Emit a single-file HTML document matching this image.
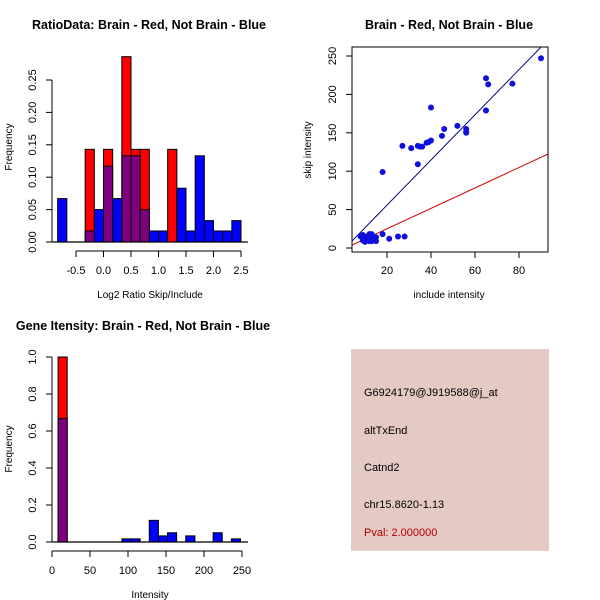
<!DOCTYPE html>
<html><head><meta charset="utf-8"><style>body{margin:0;background:#fff}svg{display:block;font-family:"Liberation Sans",sans-serif}</style></head>
<body>
<svg id="s" width="600" height="600" xmlns="http://www.w3.org/2000/svg">
<rect width="600" height="600" fill="#fff"/>
<text x="149" y="29" font-size="12.5" font-weight="bold" text-anchor="middle">RatioData: Brain - Red, Not Brain - Blue</text>
<text x="449" y="29" font-size="12.5" font-weight="bold" text-anchor="middle">Brain - Red, Not Brain - Blue</text>
<text x="143" y="330" font-size="12.5" font-weight="bold" text-anchor="middle">Gene Itensity: Brain - Red, Not Brain - Blue</text>
<text x="150" y="298" font-size="10" text-anchor="middle">Log2 Ratio Skip/Include</text>
<text transform="translate(12,147) rotate(-90)" font-size="10" text-anchor="middle">Frequency</text>
<text x="449" y="298" font-size="10" text-anchor="middle">include intensity</text>
<text transform="translate(311,150) rotate(-90)" font-size="10" text-anchor="middle">skip intensity</text>
<text x="150" y="598" font-size="10" text-anchor="middle">Intensity</text>
<text transform="translate(12,449) rotate(-90)" font-size="10" text-anchor="middle">Frequency</text>
<g>
<rect x="351" y="349" width="198" height="202" fill="#E5C9C3"/>
<text x="364" y="396" font-size="11">G6924179@J919588@j_at</text>
<text x="364" y="434" font-size="11">altTxEnd</text>
<text x="364" y="471" font-size="11">Catnd2</text>
<text x="364" y="508" font-size="11">chr15.8620-1.13</text>
<text x="364" y="536" font-size="11" fill="#B00000">Pval: 2.000000</text>
</g>
</svg>
<script>
const ratioBlue=[.067,0,0,.017,.05,.117,.067,.133,.133,.05,.017,.017,0,.083,.017,.133,.033,.017,.017,.033];
const ratioRed=[0,0,0,.143,0,.143,0,.286,.143,.143,0,0,.143,0,0,0,0,0,0,0];
const ratioTicksX=[-0.5,0,0.5,1,1.5,2,2.5];
const ratioTicksY=[0,0.05,0.1,0.15,0.2,0.25];
const intBlue=[.667,0,0,0,0,0,0,.017,.017,0,.117,.033,.05,0,.033,0,0,.05,0,.017];
const intRed=[1,0,0,0,0,0,0,0,0,0,0,0,0,0,0,0,0,0,0,0];
const intTicksX=[0,50,100,150,200,250];
const intTicksY=[0,0.2,0.4,0.6,0.8,1.0];
const includeX=[27,31,34,35,36,34,38,39,40,40,45,46,52,56,56,56,65,65,66,77,90,18,18,21,25,28,8,9,9,10,10,11,11,12,12,13,13,14,14,15,15,13,12,10];
const skipY=[133,130,133,132,132,109,137,138,140,183,146,155,159,155,151,150,179,221,213,214,247,99,18,12,15,15,15,10,17,12,8,15,10,18,12,9,15,12,10,14,9,18,9,14];
const scatTicksX=[20,40,60,80];
const scatTicksY=[0,50,100,150,200,250];
const blueFit=[-3,2.94];
const redFit=[-1.6,1.33];
const svg=document.getElementById('s');
const NS='http://www.w3.org/2000/svg';
function mk(tag,attrs,parent){const e=document.createElementNS(NS,tag);for(const k in attrs)e.setAttribute(k,attrs[k]);(parent||svg).appendChild(e);return e;}
function hist(blue,red,x0,bw,sx,sy,name){
  const g=mk('g',{});
  
  
  for(let i=0;i<blue.length;i++){
    const b=blue[i],r=red[i];const xa=sx(x0+i*bw),xb=sx(x0+(i+1)*bw);
    const hi=Math.max(b,r),lo=Math.min(b,r);
    if(hi>0){const el=mk('rect',{x:xa,y:sy(hi),width:xb-xa,height:sy(0)-sy(hi),fill:b>r?'#0000FF':'#FF0000',stroke:'#000','stroke-width':1},g);
      
      }
    if(lo>0){const el=mk('rect',{x:xa,y:sy(lo),width:xb-xa,height:sy(0)-sy(lo),fill:'#7F007F',stroke:'#000','stroke-width':1},g);
      
      }
  }
}
function yAxis(x,ticks,sy,fmt,name){
  const g=mk('g',{});
  
  
  mk('line',{x1:x,x2:x,y1:sy(ticks[0]),y2:sy(ticks[ticks.length-1]),stroke:'#000'},g);
  ticks.forEach(t=>{mk('line',{x1:x-6,x2:x,y1:sy(t),y2:sy(t),stroke:'#000'},g);
    const tx=mk('text',{transform:`translate(${x-16},${sy(t)}) rotate(-90)`,'font-size':11,'text-anchor':'middle'},g);tx.textContent=fmt(t);});
}
function xAxis(y,ticks,sx,fmt,name){
  const g=mk('g',{});
  
  
  mk('line',{x1:sx(ticks[0]),x2:sx(ticks[ticks.length-1]),y1:y,y2:y,stroke:'#000'},g);
  ticks.forEach(t=>{mk('line',{x1:sx(t),x2:sx(t),y1:y,y2:y+6,stroke:'#000'},g);
    const tx=mk('text',{x:sx(t),y:y+23,'font-size':11,'text-anchor':'middle'},g);tx.textContent=fmt(t);});
}
{const sx=v=>76+(v+0.5)*55, sy=v=>242-v*648;
 hist(ratioBlue,ratioRed,-5/6,1/6,sx,sy,'ratio');
 mk('line',{x1:52,x2:248,y1:242,y2:242,stroke:'#000','stroke-width':1.2});
 yAxis(52,ratioTicksY,sy,t=>t.toFixed(2),'ratio-y-axis');
 xAxis(251,ratioTicksX,sx,t=>t.toFixed(1),'ratio-x-axis');}
{const sx=v=>52+v*0.76, sy=v=>542-v*185;
 hist(intBlue,intRed,8,12,sx,sy,'intensity');
 mk('line',{x1:52,x2:248,y1:542,y2:542,stroke:'#000','stroke-width':1.2});
 yAxis(52,intTicksY,sy,t=>t.toFixed(1),'intensity-y-axis');
 xAxis(551,intTicksX,sx,t=>String(t),'intensity-x-axis');}
{const sx=v=>343+v*2.2, sy=v=>248-v*0.768;
 const cp=mk('clipPath',{id:'cp'});mk('rect',{x:352,y:47,width:196,height:205},cp);
 const g=mk('g',{'clip-path':'url(#cp)'});
 
 
 const l1=mk('line',{x1:sx(0),y1:sy(blueFit[0]),x2:sx(100),y2:sy(blueFit[0]+100*blueFit[1]),stroke:'#00008B'},g);
 
 
 const l2=mk('line',{x1:sx(0),y1:sy(redFit[0]),x2:sx(100),y2:sy(redFit[0]+100*redFit[1]),stroke:'#CC0000'},g);
 
 
 for(let i=0;i<includeX.length;i++){const c=mk('circle',{cx:sx(includeX[i]),cy:sy(skipY[i]),r:3,fill:'#1010DD'},g);
  
  }
 const box=mk('rect',{x:352,y:47,width:196,height:205,fill:'none',stroke:'#000'});
 
 
 const gy=mk('g',{});
 
 
 scatTicksY.forEach(t=>{mk('line',{x1:346,x2:352,y1:sy(t),y2:sy(t),stroke:'#000'},gy);
  const tx=mk('text',{transform:`translate(336,${sy(t)}) rotate(-90)`,'font-size':11,'text-anchor':'middle'},gy);tx.textContent=t;});
 const gx=mk('g',{});
 
 
 scatTicksX.forEach(t=>{mk('line',{x1:sx(t),x2:sx(t),y1:252,y2:258,stroke:'#000'},gx);
  const tx=mk('text',{x:sx(t),y:274,'font-size':11,'text-anchor':'middle'},gx);tx.textContent=t;});}
</script>
</body></html>
